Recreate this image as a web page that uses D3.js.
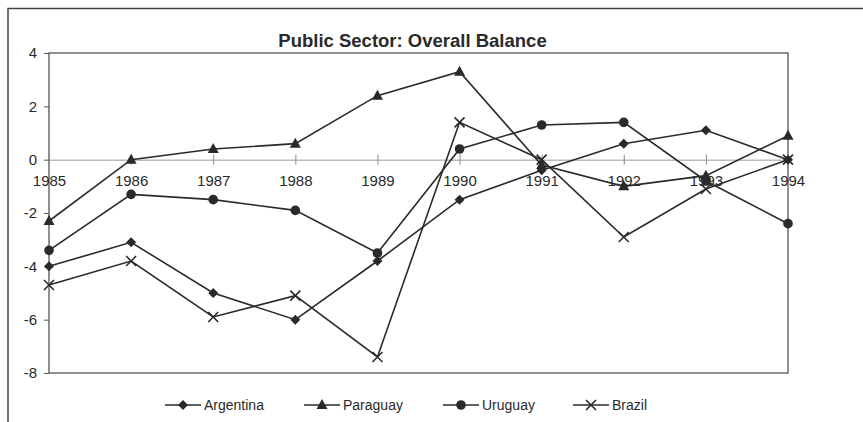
<!DOCTYPE html>
<html>
<head>
<meta charset="utf-8">
<script src="https://cdn.jsdelivr.net/npm/d3@7"></script>
<style>
  html, body { margin: 0; padding: 0; background: #fff; }
  svg { display: block; font-family: "Liberation Sans", Arial, sans-serif; }
</style>
</head>
<body>
<svg id="chart" width="863" height="422"></svg>
<script>
// Public sector overall balance, % of GDP, 1985-1994
const years = [1985, 1986, 1987, 1988, 1989, 1990, 1991, 1992, 1993, 1994];
const argentina = [-4.0, -3.1, -5.0, -6.0, -3.8, -1.5, -0.4, 0.6, 1.1, 0.0];
const paraguay  = [-2.3, 0.0, 0.4, 0.6, 2.4, 3.3, -0.2, -1.0, -0.6, 0.9];
const uruguay   = [-3.4, -1.3, -1.5, -1.9, -3.5, 0.4, 1.3, 1.4, -0.8, -2.4];
const brazil    = [-4.7, -3.8, -5.9, -5.1, -7.4, 1.4, 0.0, -2.9, -1.1, 0.0];
const yTicks = [-8, -6, -4, -2, 0, 2, 4];
const title = "Public Sector: Overall Balance";

const series = [
  { name: "Argentina", values: argentina, marker: "diamond" },
  { name: "Paraguay",  values: paraguay,  marker: "triangle" },
  { name: "Uruguay",   values: uruguay,   marker: "circle" },
  { name: "Brazil",    values: brazil,    marker: "cross" }
];

const ink = "#2a2a2a";
const svg = d3.select("#chart");

// outer frame (top and left edges)
svg.append("path")
  .attr("d", "M8,422V8.5H863")
  .attr("fill", "none").attr("stroke", "#444").attr("stroke-width", 1.5);

const plot = { left: 49, right: 788, top: 53, bottom: 373 };
const x = d3.scaleLinear().domain([1985, 1994]).range([plot.left, plot.right]);
const y = d3.scaleLinear().domain([-8, 4]).range([plot.bottom, plot.top]);
const plain = d => String(d);

// title
svg.append("text")
  .attr("x", (plot.left + plot.right) / 2 - 6).attr("y", 47)
  .attr("text-anchor", "middle")
  .attr("font-size", 18.5).attr("font-weight", "bold").attr("fill", ink)
  .text(title);

// plot frame
svg.append("rect")
  .attr("x", plot.left).attr("y", plot.top)
  .attr("width", plot.right - plot.left).attr("height", plot.bottom - plot.top)
  .attr("fill", "none").attr("stroke", "#555").attr("stroke-width", 1.3);

// y axis
const yAxis = svg.append("g")
  .attr("transform", `translate(${plot.left},0)`)
  .call(d3.axisLeft(y).tickValues(yTicks).tickSize(5).tickPadding(7).tickFormat(plain));
yAxis.select(".domain").remove();
yAxis.selectAll("line").attr("stroke", "#555");
yAxis.selectAll("text").attr("font-size", 15).attr("fill", ink).attr("font-family", "Liberation Sans, Arial, sans-serif");

// zero line with year ticks crossing it
const xAxis = svg.append("g")
  .attr("transform", `translate(0,${y(0)})`)
  .call(d3.axisBottom(x).tickValues(years).tickSize(5).tickSizeOuter(0).tickFormat(plain));
xAxis.select(".domain").attr("stroke", "#999").attr("stroke-width", 1);
xAxis.selectAll("line").attr("y1", -5).attr("stroke", "#888");
xAxis.selectAll("text")
  .attr("y", 16).attr("dy", "0.71em")
  .attr("font-size", 15).attr("fill", ink).attr("font-family", "Liberation Sans, Arial, sans-serif");

// marker shapes
function drawMarker(g, kind, cx, cy) {
  if (kind === "diamond") {
    g.append("path").attr("d", `M${cx},${cy - 5}L${cx + 5},${cy}L${cx},${cy + 5}L${cx - 5},${cy}Z`).attr("fill", ink);
  } else if (kind === "triangle") {
    g.append("path").attr("d", `M${cx},${cy - 6}L${cx + 5.5},${cy + 4}L${cx - 5.5},${cy + 4}Z`).attr("fill", ink);
  } else if (kind === "circle") {
    g.append("circle").attr("cx", cx).attr("cy", cy).attr("r", 4.8).attr("fill", ink);
  } else {
    g.append("path").attr("d", `M${cx - 5},${cy - 5}L${cx + 5},${cy + 5}M${cx + 5},${cy - 5}L${cx - 5},${cy + 5}`)
      .attr("stroke", ink).attr("stroke-width", 1.6).attr("fill", "none");
  }
}

const line = d3.line().x((d, i) => x(years[i])).y(d => y(d));
series.forEach(s => {
  const g = svg.append("g");
  g.append("path").datum(s.values).attr("d", line)
    .attr("fill", "none").attr("stroke", ink).attr("stroke-width", 1.6);
  s.values.forEach((v, i) => drawMarker(g, s.marker, x(years[i]), y(v)));
});

// legend
const legendX = [165, 304, 443, 573];
const legendY = 405;
series.forEach((s, i) => {
  const g = svg.append("g");
  const x0 = legendX[i];
  g.append("line").attr("x1", x0).attr("x2", x0 + 36).attr("y1", legendY).attr("y2", legendY)
    .attr("stroke", ink).attr("stroke-width", 1.6);
  drawMarker(g, s.marker, x0 + 18, legendY);
  g.append("text").attr("x", x0 + 39).attr("y", legendY).attr("dy", "0.35em")
    .attr("font-size", 14).attr("fill", ink).text(s.name);
});
</script>
</body>
</html>
